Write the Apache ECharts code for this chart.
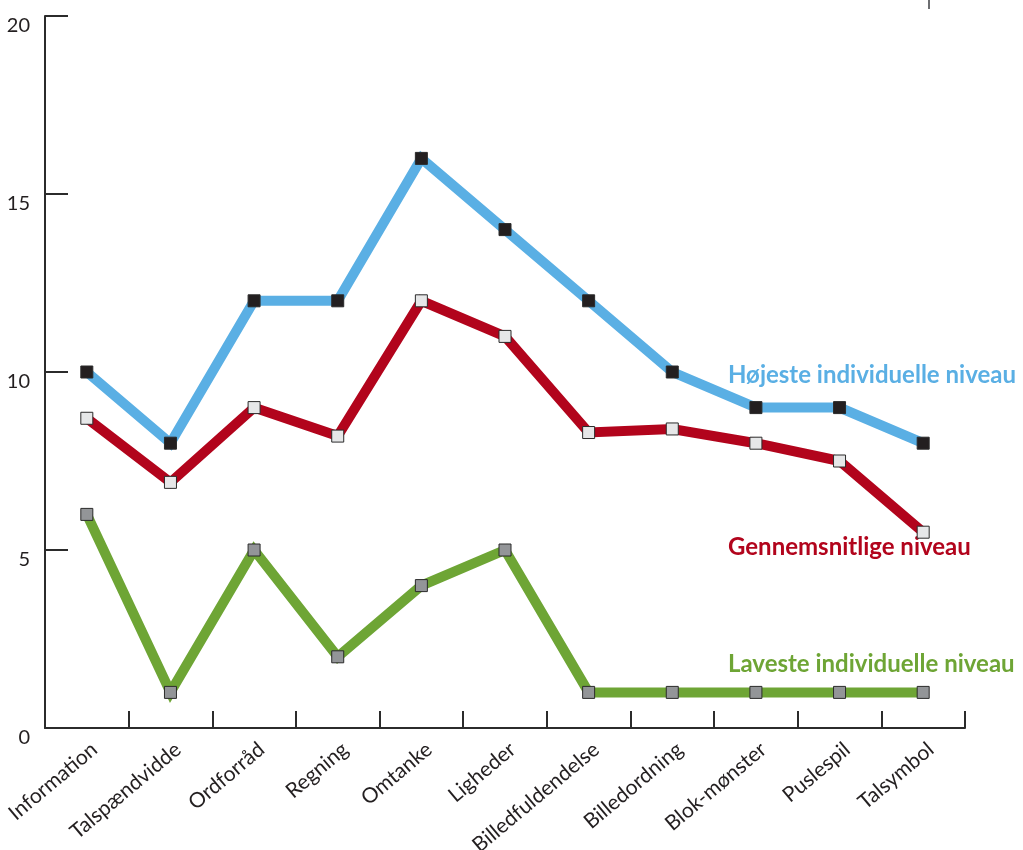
<!DOCTYPE html>
<html>
<head>
<meta charset="utf-8">
<script src="https://cdn.jsdelivr.net/npm/echarts@6/dist/echarts.min.js"></script>
<style>
  html, body { margin: 0; padding: 0; background: #ffffff; }
  #chart { width: 1023px; height: 850px; }
</style>
</head>
<body>
<div id="chart"></div>
<script>
// Subtest categories
const categories = ['Information', 'Talspændvidde', 'Ordforråd', 'Regning', 'Omtanke', 'Ligheder',
  'Billedfuldendelse', 'Billedordning', 'Blok-mønster', 'Puslespil', 'Talsymbol'];

// Highest individual level
const hojeste = [10, 8, 12, 12, 16, 14, 12, 10, 9, 9, 8];
// Average level
const gennemsnit = [8.7, 6.9, 9.0, 8.2, 12.0, 11.0, 8.3, 8.4, 8.0, 7.5, 5.5];
// Lowest individual level
const laveste = [6, 1, 5, 2, 4, 5, 1, 1, 1, 1, 1];

const yTicks = [0, 5, 10, 15, 20];

const seriesNames = ['Højeste individuelle niveau', 'Gennemsnitlige niveau', 'Laveste individuelle niveau'];
const lineColors = ['#5aafe4', '#b2041c', '#6ea535'];
const markerFills = ['#231f20', '#e6e7e8', '#939598'];

const FONT = 'Lato, "Open Sans", sans-serif';
const AXIS = '#2b2b2b';

const chart = echarts.init(document.getElementById('chart'), null, { renderer: 'canvas' });

function lineSeries(i, data, z) {
  return {
    name: seriesNames[i],
    type: 'line',
    data: data,
    z: z,
    symbol: 'rect',
    symbolSize: 12,
    showAllSymbol: true,
    lineStyle: { color: lineColors[i], width: 10, cap: 'butt', join: 'miter', miterLimit: 10 },
    itemStyle: { color: markerFills[i], borderColor: '#2b2b2b', borderWidth: 1 },
    emphasis: { disabled: true },
    animation: false
  };
}

chart.setOption({
  animation: false,
  grid: { left: 45, right: 58, top: 16, bottom: 122, containLabel: false, outerBoundsMode: 'none' },
  xAxis: {
    type: 'category',
    data: categories,
    boundaryGap: true,
    axisLine: { show: true, lineStyle: { color: AXIS, width: 2 } },
    axisTick: { show: true, inside: true, length: 17, interval: 0, lineStyle: { color: AXIS, width: 2 } },
    axisLabel: {
      interval: 0, rotate: 40, margin: 25,
      padding: [0, -10, 0, 0],
      fontFamily: FONT, fontSize: 21, color: '#231f20'
    },
    splitLine: { show: false }
  },
  yAxis: {
    type: 'value',
    min: yTicks[0],
    max: yTicks[yTicks.length - 1],
    interval: 5,
    axisLine: { show: true, lineStyle: { color: AXIS, width: 2 } },
    axisTick: { show: true, inside: true, length: 23, lineStyle: { color: AXIS, width: 2 } },
    axisLabel: {
      margin: 15, fontFamily: FONT, fontSize: 20, color: '#231f20',
      verticalAlign: 'top'
    },
    splitLine: { show: false }
  },
  series: [
    lineSeries(0, hojeste, 3),
    lineSeries(1, gennemsnit, 4),
    lineSeries(2, laveste, 5)
  ],
  graphic: [
    {
      type: 'text', left: 728, top: 363,
      style: { text: seriesNames[0], fill: lineColors[0], font: 'bold 24px ' + FONT }
    },
    {
      type: 'text', left: 728, top: 535,
      style: { text: seriesNames[1], fill: lineColors[1], font: 'bold 24px ' + FONT }
    },
    {
      type: 'text', left: 728, top: 652,
      style: { text: seriesNames[2], fill: lineColors[2], font: 'bold 24px ' + FONT }
    },
    {
      type: 'line',
      shape: { x1: 929, y1: 0, x2: 929, y2: 9 },
      style: { stroke: '#6d6e71', lineWidth: 2 }
    }
  ]
});
</script>
</body>
</html>
